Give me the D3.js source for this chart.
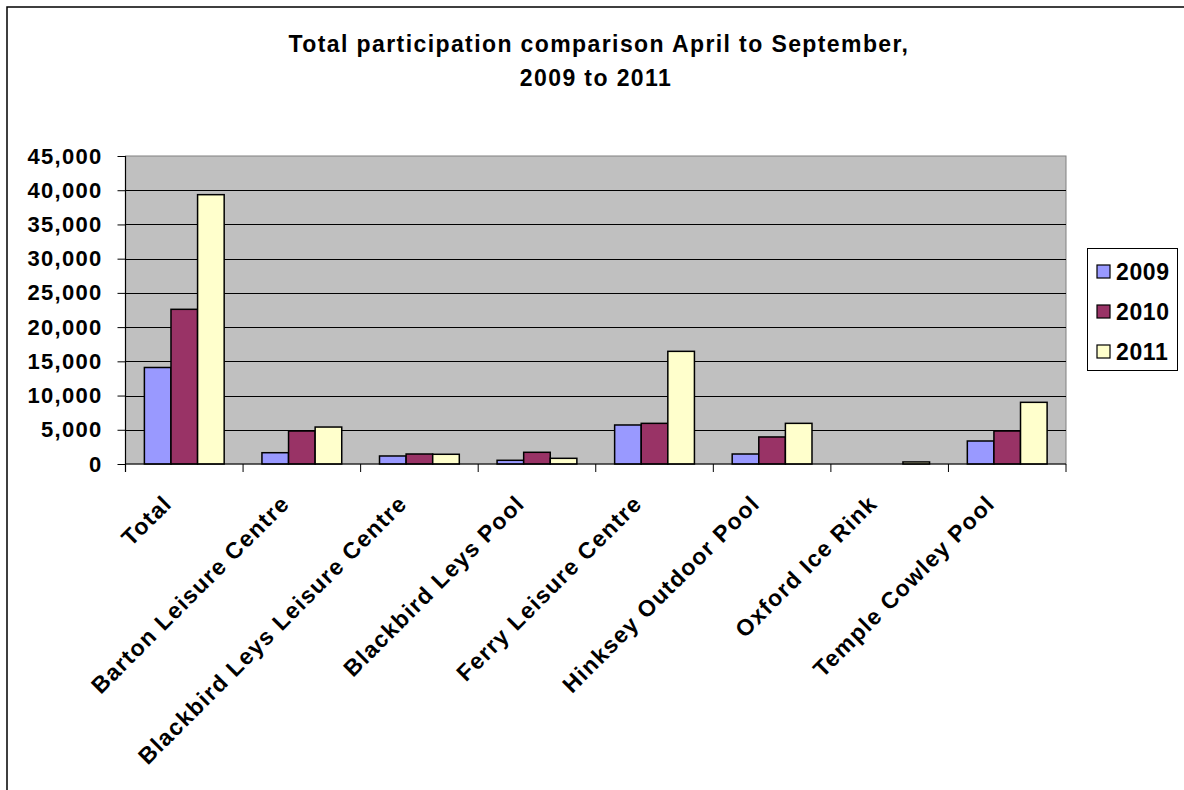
<!DOCTYPE html>
<html>
<head>
<meta charset="utf-8">
<script src="https://cdn.jsdelivr.net/npm/d3@7"></script>
<style>
  html, body { margin: 0; padding: 0; background: #fff; }
  svg { display: block; }
  text { font-family: "Liberation Sans", Arial, sans-serif; font-weight: bold; fill: #000; }
</style>
</head>
<body>
<svg id="chart" width="1184" height="790"></svg>
<script>
const categories = ["Total", "Barton Leisure Centre", "Blackbird Leys Leisure Centre", "Blackbird Leys Pool",
  "Ferry Leisure Centre", "Hinksey Outdoor Pool", "Oxford Ice Rink", "Temple Cowley Pool"];
const years = ["2009", "2010", "2011"];
const values2009 = [14100, 1650, 1170, 540, 5700, 1460, 0, 3360];
const values2010 = [22600, 4820, 1460, 1710, 5940, 3950, 0, 4820];
const values2011 = [39350, 5400, 1420, 830, 16460, 5940, 300, 9010];
const yTicks = [0, 5000, 10000, 15000, 20000, 25000, 30000, 35000, 40000, 45000];
const titleLines = ["Total participation comparison April to September,", "2009 to 2011"];
const colors = ["#9999FF", "#993366", "#FFFFCC"];

const seriesValues = [values2009, values2010, values2011];
const data = categories.map((c, i) => ({ cat: c, vals: years.map((y, j) => ({ year: y, v: seriesValues[j][i], idx: j })) }));

const svg = d3.select("#chart");
const plot = { left: 125.5, right: 1066, top: 156, bottom: 464 };

// outer border
svg.append("rect").attr("x", 7).attr("y", 7).attr("width", 1250).attr("height", 850)
  .attr("fill", "#fff").attr("stroke", "#000").attr("stroke-width", 1.5);

// title
svg.append("text").attr("x", 599).attr("y", 52).attr("text-anchor", "middle")
  .style("font-size", "23px").style("letter-spacing", "1.4px").text(titleLines[0]);
svg.append("text").attr("x", 596).attr("y", 86).attr("text-anchor", "middle")
  .style("font-size", "23px").style("letter-spacing", "1.4px").text(titleLines[1]);

const x0 = d3.scaleBand().domain(categories).range([plot.left, plot.right]).paddingInner(0).paddingOuter(0);
const x1 = d3.scaleBand().domain(years).range([0, x0.bandwidth()]).paddingInner(0).paddingOuter(0.71);
const y = d3.scaleLinear().domain([0, 45000]).range([plot.bottom, plot.top]);

// plot background
svg.append("rect").attr("x", plot.left).attr("y", plot.top)
  .attr("width", plot.right - plot.left).attr("height", plot.bottom - plot.top)
  .attr("fill", "#C0C0C0").attr("stroke", "#808080").attr("stroke-width", 1);

// gridlines
svg.append("g").selectAll("line").data(yTicks.filter(t => t > 0 && t < 45000)).join("line")
  .attr("x1", plot.left).attr("x2", plot.right)
  .attr("y1", d => Math.round(y(d)) + 0.5).attr("y2", d => Math.round(y(d)) + 0.5)
  .attr("stroke", "#000").attr("stroke-width", 1);

// bars
const groups = svg.append("g").selectAll("g").data(data).join("g")
  .attr("transform", d => `translate(${x0(d.cat)},0)`);
groups.selectAll("rect").data(d => d.vals.filter(v => v.v > 0)).join("rect")
  .attr("x", d => x1(d.year))
  .attr("y", d => y(d.v))
  .attr("width", x1.bandwidth())
  .attr("height", d => y(0) - y(d.v))
  .attr("fill", d => colors[d.idx])
  .attr("stroke", "#000").attr("stroke-width", 1.5);

// y axis
const yAxis = d3.axisLeft(y).tickValues(yTicks).tickSize(8).tickSizeOuter(0).tickPadding(15)
  .tickFormat(d3.format(","));
const gy = svg.append("g").attr("transform", `translate(${plot.left},0)`).call(yAxis);
gy.select(".domain").remove();
gy.selectAll(".tick line").attr("stroke", "#000").attr("stroke-width", 1);
gy.selectAll(".tick text").style("font-size", "22px").style("letter-spacing", "1.3px")
  .style("font-family", "'Liberation Sans', Arial, sans-serif").style("font-weight", "bold");
svg.append("line").attr("x1", plot.left).attr("x2", plot.left).attr("y1", plot.top).attr("y2", plot.bottom + 8)
  .attr("stroke", "#000").attr("stroke-width", 1.2);

// x axis
svg.append("line").attr("x1", plot.left).attr("x2", plot.right).attr("y1", plot.bottom).attr("y2", plot.bottom)
  .attr("stroke", "#000").attr("stroke-width", 1.2);
const boundaries = categories.map(c => x0(c)).concat([plot.right]);
svg.append("g").selectAll("line").data(boundaries).join("line")
  .attr("x1", d => d).attr("x2", d => d).attr("y1", plot.bottom).attr("y2", plot.bottom + 8)
  .attr("stroke", "#000").attr("stroke-width", 1);

svg.append("g").selectAll("text").data(categories).join("text")
  .attr("transform", d => `translate(${x0(d) + x0.bandwidth() / 2 - 11},505) rotate(-45)`)
  .attr("text-anchor", "end")
  .style("font-size", "23px").style("letter-spacing", "1.3px")
  .text(d => d);

// legend
const legend = svg.append("g");
legend.append("rect").attr("x", 1087.5).attr("y", 248.5).attr("width", 90).attr("height", 122)
  .attr("fill", "#fff").attr("stroke", "#000").attr("stroke-width", 1);
const li = legend.selectAll("g").data(years).join("g")
  .attr("transform", (d, i) => `translate(0,${i * 40})`);
li.append("rect").attr("x", 1097).attr("y", 265).attr("width", 13).attr("height", 13)
  .attr("fill", (d, i) => colors[i]).attr("stroke", "#000").attr("stroke-width", 1.2);
li.append("text").attr("x", 1116).attr("y", 280).style("font-size", "23px").style("letter-spacing", "0.6px").text(d => d);
</script>
</body>
</html>
